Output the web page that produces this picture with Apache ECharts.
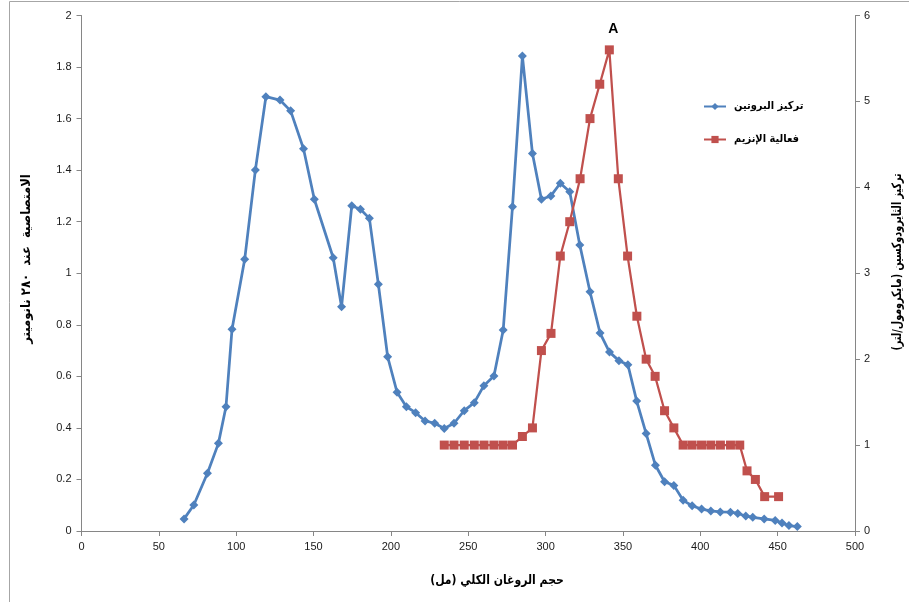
<!DOCTYPE html>
<html><head><meta charset="utf-8">
<script src="https://cdn.jsdelivr.net/npm/echarts@6/dist/echarts.min.js"></script>
<style>html,body{margin:0;padding:0;background:#fff}#c{width:909px;height:602px}</style>
</head><body><div id="c"></div>
<script>
const proteinVolume = [66.3,72.6,81.4,88.5,93.4,97.3,105.5,112.4,119.2,128.3,135.2,143.5,150.5,162.7,168.1,174.7,180.3,186.1,191.9,197.9,204.0,210.0,216.0,222.1,228.3,234.5,240.8,247.4,253.9,260.1,266.6,272.6,278.6,285.0,291.5,297.3,303.4,309.5,315.6,322.1,328.7,335.2,341.3,347.4,353.2,358.9,365.0,371.0,376.9,382.9,388.9,394.7,400.8,406.8,412.9,419.5,424.2,429.4,433.9,441.3,448.4,452.8,457.3,462.7];
const proteinAbs = [0.047,0.101,0.224,0.340,0.482,0.783,1.054,1.401,1.685,1.672,1.630,1.483,1.287,1.060,0.870,1.262,1.248,1.213,0.957,0.676,0.538,0.482,0.459,0.427,0.418,0.398,0.418,0.467,0.498,0.564,0.601,0.780,1.258,1.843,1.465,1.287,1.300,1.349,1.316,1.110,0.928,0.768,0.694,0.661,0.645,0.504,0.378,0.255,0.191,0.177,0.119,0.098,0.085,0.078,0.074,0.073,0.068,0.058,0.053,0.047,0.041,0.031,0.021,0.017];
const enzymeVolume = [234.5,240.8,247.4,253.9,260.2,266.6,272.6,278.6,285.0,291.5,297.3,303.5,309.5,315.6,322.3,328.7,335.0,341.2,347.0,353.0,359.0,365.0,370.8,376.9,382.9,388.9,394.7,400.8,406.8,413.0,419.5,425.5,430.2,435.6,441.6,450.6];
const enzymeActivity = [1.0,1.0,1.0,1.0,1.0,1.0,1.0,1.0,1.1,1.2,2.1,2.3,3.2,3.6,4.1,4.8,5.2,5.6,4.1,3.2,2.5,2.0,1.8,1.4,1.2,1.0,1.0,1.0,1.0,1.0,1.0,1.0,0.7,0.6,0.4,0.4];
const peakIndex = 17;
const peakLabel = 'A';
const seriesNames = ['تركيز البروتين','فعالية الإنزيم'];
const xTitle = 'حجم الروغان الكلي (مل)';
const yLeftTitle = 'الامتصاصية  عند  ٢٨٠ نانوميتر';
const yRightTitle = 'تركيز الثايرودوكسين (مايكرومول/لتر)';

const chart = echarts.init(document.getElementById('c'), null, {renderer:'canvas'});
const blueData = proteinVolume.map((v,i)=>[v, proteinAbs[i]]);
const redData = enzymeVolume.map((v,i)=>{
  const d = {value:[v, enzymeActivity[i]]};
  if (i === peakIndex) d.label = {show:true, formatter:peakLabel, position:'top', distance:9, offset:[4,0], color:'#000', fontSize:14, fontWeight:'bold', fontFamily:'Liberation Sans'};
  return d;
});
const axisCommon = {
  axisLine:{show:true, lineStyle:{color:'#868686', width:1}},
  axisTick:{show:true, length:5, lineStyle:{color:'#868686'}},
  splitLine:{show:false},
  axisLabel:{color:'#1a1a1a', fontSize:11, fontFamily:'Liberation Sans'}
};
const arabicFont = '"DejaVu Sans Condensed", "DejaVu Sans", sans-serif';
const titleFont = {fontFamily:arabicFont, fontSize:13, fontWeight:'bold', fill:'#000'};
chart.setOption({
  animation:false,
  backgroundColor:'#fff',
  grid:{left:81.5, right:54, top:15.5, bottom:71, containLabel:false},
  xAxis:Object.assign({type:'value', min:0, max:500, interval:50}, axisCommon, {axisLabel:Object.assign({}, axisCommon.axisLabel, {margin:10})}),
  yAxis:[
    Object.assign({type:'value', min:0, max:2, interval:0.2, position:'left'}, axisCommon, {axisLabel:Object.assign({}, axisCommon.axisLabel, {margin:10})}),
    Object.assign({type:'value', min:0, max:6, interval:1, position:'right'}, axisCommon, {axisLabel:Object.assign({}, axisCommon.axisLabel, {margin:9})})
  ],
  legend:{
    orient:'vertical', left:698, top:96, itemGap:22, itemWidth:22, itemHeight:9,
    textStyle:{color:'#000', fontSize:11, fontWeight:'bold', fontFamily:arabicFont, padding:[0,0,0,3]},
    data:seriesNames
  },
  series:[
    {name:seriesNames[0], type:'line', yAxisIndex:0, data:blueData, symbol:'diamond', symbolSize:9, showAllSymbol:true,
     lineStyle:{color:'#4F81BD', width:2.75}, itemStyle:{color:'#4F81BD'}},
    {name:seriesNames[1], type:'line', yAxisIndex:1, data:redData, symbol:'rect', symbolSize:9, showAllSymbol:true,
     lineStyle:{color:'#C0504D', width:2.25}, itemStyle:{color:'#C0504D'}}
  ],
  graphic:[
    {type:'rect', shape:{x:9.5, y:1.5, width:1000, height:1000}, style:{fill:'none', stroke:'#a6a6a6', lineWidth:1}, silent:true},
    {type:'text', x:497, y:581, scaleX:0.93, style:Object.assign({text:xTitle, align:'center', verticalAlign:'middle'}, titleFont)},
    {type:'text', x:27, y:259, rotation:Math.PI/2, style:Object.assign({text:yLeftTitle, align:'center', verticalAlign:'middle'}, titleFont)},
    {type:'text', x:898, y:262, rotation:Math.PI/2, scaleX:0.82, style:Object.assign({text:yRightTitle, align:'center', verticalAlign:'middle'}, titleFont)}
  ]
});
</script></body></html>
